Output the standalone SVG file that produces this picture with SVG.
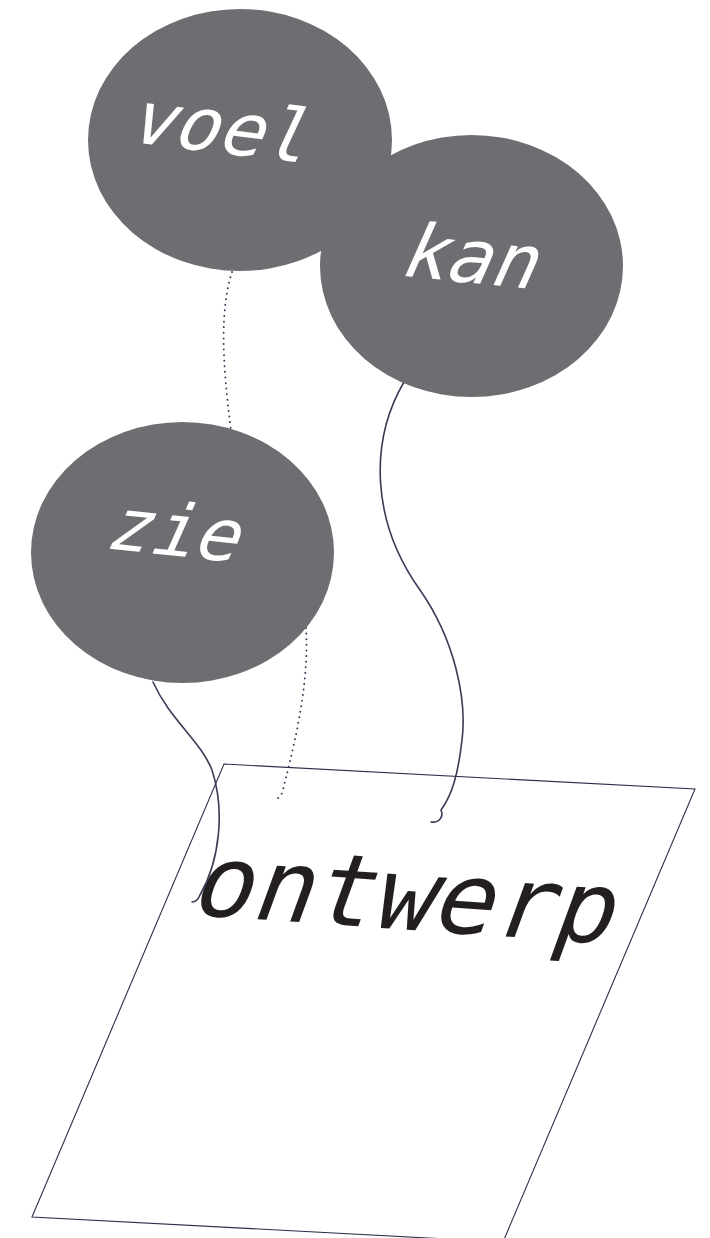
<svg xmlns="http://www.w3.org/2000/svg" width="710" height="1238" viewBox="0 0 710 1238">
<style>
.bubble{fill:#6d6e71}
.lbl{font-family:"DejaVu Sans Mono","Liberation Mono",monospace;fill:#ffffff;text-anchor:middle}
.main{font-family:"DejaVu Sans Mono","Liberation Mono",monospace;fill:#231f20;text-anchor:middle}
.line{fill:none;stroke:#3b3b57;stroke-width:1.6;stroke-linecap:round}
.dots{fill:none;stroke:#3b3b57;stroke-width:1.9;stroke-linecap:round;stroke-dasharray:0.1 5.5}
.sheet{fill:#ffffff;stroke:#2e2e4a;stroke-width:1.1}
</style>
<g id="ontwerp">
<polygon class="sheet" points="224,764 695,789 503,1242 32,1217"/>
<text class="main" font-size="100" transform="translate(398,929) rotate(4) skewX(-16)">ontwerp</text>
</g>
<g id="connectors">
<path class="dots" d="M232,272 C220,310 222,360 231,430"/>
<path class="dots" d="M306,628 C310,690 290,760 283,790 C281,797 278,799 274,799"/>
<path class="line" d="M153,682 C170,720 200,740 212,770 C225,810 220,860 200,895 C198,900 196,902 192,902"/>
<path class="line" d="M404,382 C370,440 370,520 420,590 C455,640 467,700 462,740 C458,775 452,795 441,810 C444,817 439,823 431,822"/>
</g>
<g id="voel">
<ellipse class="bubble" cx="240" cy="140" rx="152" ry="131"/>
<text class="lbl" font-size="74" transform="translate(214,152) rotate(7) skewX(-18)">voel</text>
</g>
<g id="kan">
<ellipse class="bubble" cx="471.5" cy="266" rx="151.5" ry="131"/>
<text class="lbl" font-size="75" transform="translate(464,282) rotate(6) skewX(-18)">kan</text>
</g>
<g id="zie">
<ellipse class="bubble" cx="182.5" cy="552.5" rx="151.5" ry="130.5"/>
<text class="lbl" font-size="73" transform="translate(168,555) rotate(6) skewX(-18)">zie</text>
</g>
</svg>
